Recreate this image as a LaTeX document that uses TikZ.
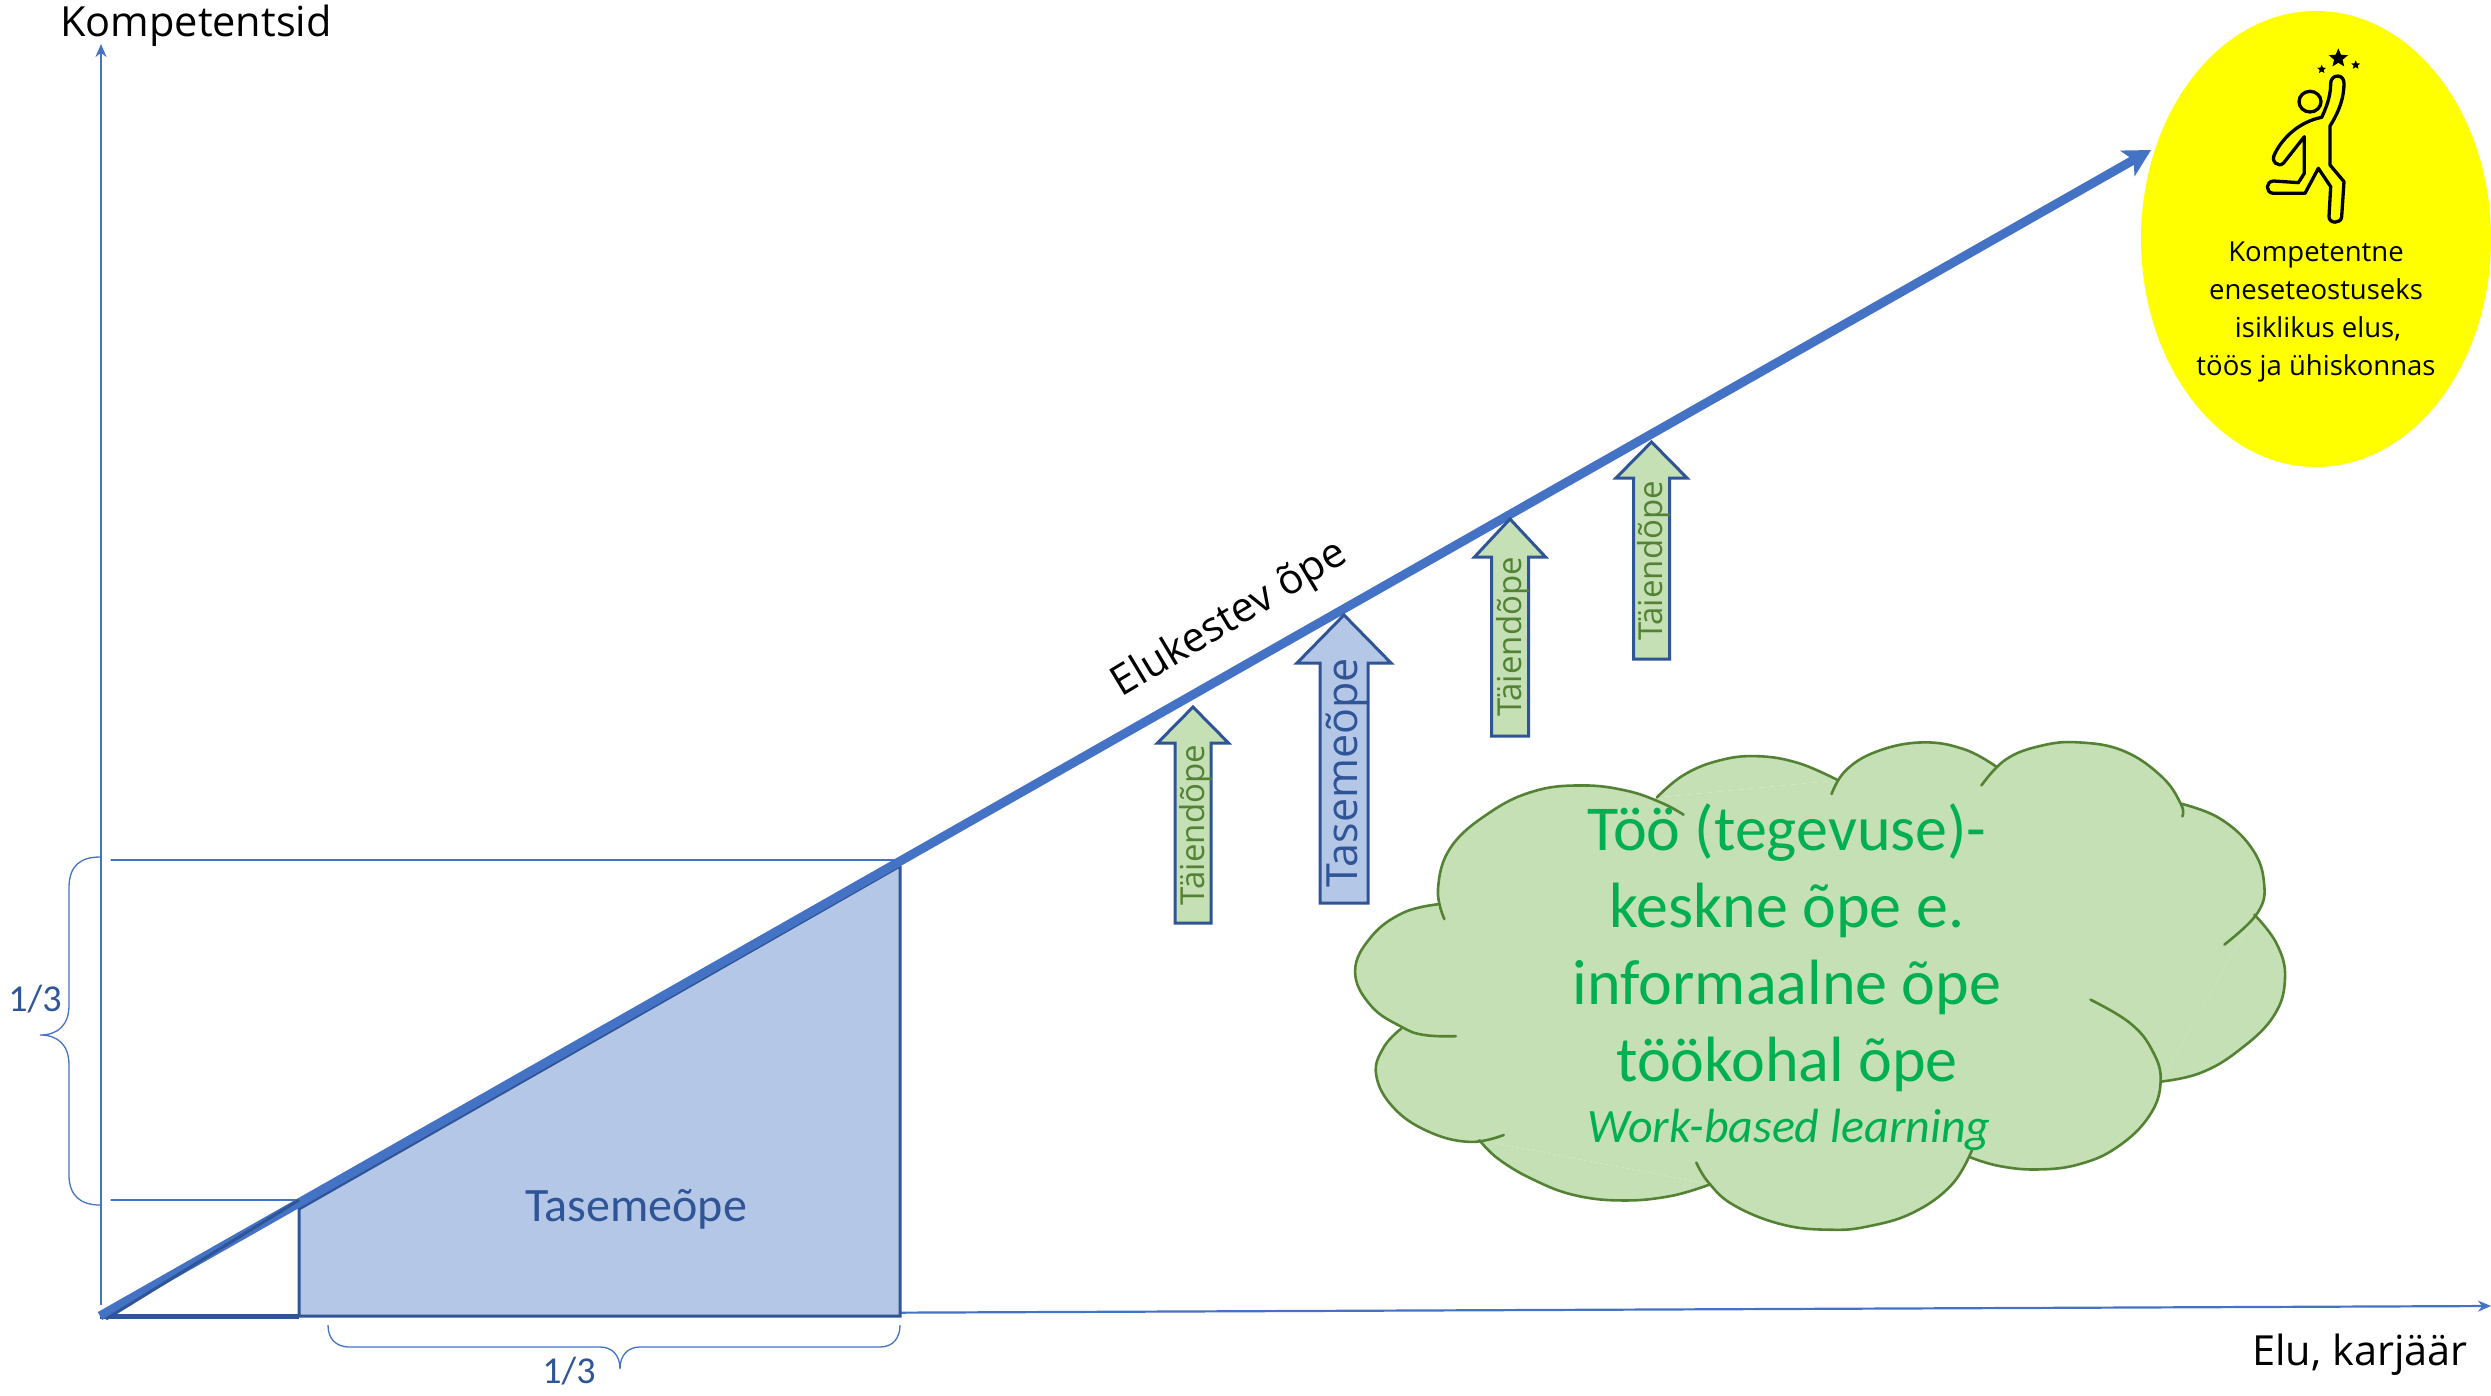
\documentclass[tikz,border=0pt]{standalone}
\usepackage{fontspec}
\setmainfont{Open Sans}
\newfontfamily\carlito{Carlito}
\usetikzlibrary{arrows.meta,shapes.geometric}
\definecolor{axisblue}{HTML}{4472C4}
\definecolor{darkblue}{HTML}{2F5597}
\definecolor{paleblue}{HTML}{B4C7E7}
\definecolor{palegreen}{HTML}{C5E0B4}
\definecolor{darkgreen}{HTML}{548235}
\definecolor{textgreen}{HTML}{00B050}
\definecolor{sun}{HTML}{FFFF00}
\newcommand{\fs}[1]{\fontsize{#1}{#1}\selectfont}
\newcommand{\blockarrow}[8]{% name tipx tipy baseY halfhead halfshaft bottomY style
  \draw[#8] (#2,#3) -- (#2+#5,#4) -- (#2+#6,#4) -- (#2+#6,#7) -- (#2-#6,#7) -- (#2-#6,#4) -- (#2-#5,#4) -- cycle;
  \coordinate (#1) at (#2,#7);
}
\newcommand{\lobe}[1]{\fill[palegreen] plot[smooth,tension=0.7] coordinates {#1} -- cycle;}
\newcommand{\lobeline}[1]{\draw[cloudline] plot[smooth,tension=0.7] coordinates {#1};}
\tikzset{
  axisline/.style={draw=axisblue,line width=2.2pt,-{Stealth[length=13pt,width=11pt]}},
  guide/.style={draw=axisblue,line width=1.2pt,line cap=round},
  lifeline/.style={draw=axisblue,line width=9pt,-{Stealth[length=27pt,width=29pt,inset=7pt]}},
  bluearrow/.style={draw=darkblue,line width=3pt,fill=paleblue,line join=miter},
  greenarrow/.style={draw=darkblue,line width=3pt,fill=palegreen,line join=miter},
  cloudline/.style={draw=darkgreen,line width=2.6pt,line cap=round},
  axislabel/.style={text=black,inner sep=0pt,font=\fs{41.5}},
  fraction/.style={text=darkblue,inner sep=0pt,font=\carlito\fs{38}},
  topup/.style={text=darkgreen,inner sep=0pt,rotate=90,font=\fs{33}},
  stepup/.style={text=darkblue,inner sep=0pt,rotate=90,font=\fs{43}},
  cloudtext/.style={text=textgreen,inner sep=0pt,anchor=base,font=\carlito\fs{64}},
  ellipsetext/.style={text=black,inner sep=0pt,anchor=base,font=\fs{27.5}}
}
\begin{document}
\begin{tikzpicture}[x=1pt,y=-1pt]
\useasboundingbox (0,0) rectangle (2491,1395);
\coordinate (o) at (100,1316);
\coordinate (ytop) at (101,44);
\coordinate (ybottom) at (101,1305);
\coordinate (xend) at (2491,1306);
\coordinate (tl) at (299,1200);
\coordinate (bl) at (299,1316);
\coordinate (tr) at (900,866);
\coordinate (tlb) at (299,1209);
\coordinate (br) at (900,1316);
\coordinate (gl1) at (111,860);
\coordinate (gl2) at (111,1200);
\coordinate (gr1) at (900,860);

% axes
\draw[axisline] (ybottom) -- (ytop);
\draw[axisline] (o) -- (xend);

% trapezoid and small triangle
\fill[paleblue] (tlb) -- (tr) -- (br) -- (bl) -- cycle;
\draw[darkblue,line width=3pt,line join=miter] (tl) -- (bl) (tr) -- (br) -- (bl) (tlb) -- (tr);
\draw[darkblue,line width=5pt] (o) -- (bl);
\draw[guide] (gl1) -- (gr1);
\draw[guide] (gl2) -- (tl);

% ellipse
\node[ellipse,fill=sun,minimum width=350pt,minimum height=456pt,inner sep=0pt] (goal) at (2316,239) {};

% main line
\draw[lifeline] (o) -- (2151,150) coordinate (tip);
\draw[darkblue,line width=3pt] (106,1319) -- (tl);

% braces
\draw[axisblue,line width=1.3pt] (100,857) .. controls (80,857) and (69,866) .. (69,888)
  -- (69,1005) .. controls (69,1025) and (58,1035) .. (40,1035)
  .. controls (58,1035) and (69,1045) .. (69,1065) -- (69,1175)
  .. controls (69,1195) and (80,1205) .. (100,1205);
\draw[axisblue,line width=1.3pt] (328,1325) .. controls (328,1338) and (335,1347) .. (350,1347)
  -- (600,1347) .. controls (612,1347) and (620,1355) .. (620,1369)
  .. controls (620,1355) and (628,1347) .. (640,1347) -- (880,1347)
  .. controls (893,1347) and (900,1338) .. (900,1325);
\node[fraction] (f1) at (35,999) {1/3};
\node[fraction] (f2) at (569,1371) {1/3};
\node[text=darkblue,inner sep=0pt,font=\carlito\fs{48}] (tase) at (636,1209) {Tasemeõpe};

% axis labels
\node[axislabel] (kom) at (196,26) {Kompetentsid};
\node[axislabel] (elu) at (2360,1355) {Elu, karjäär};
\node[axislabel,rotate=31] (life) at (1230,620) {Elukestev õpe};

% block arrows
\blockarrow{a1}{1193}{707}{743}{35.5}{18}{923}{greenarrow}
\blockarrow{a2}{1344}{615}{663}{47}{24}{903}{bluearrow}
\blockarrow{a3}{1510}{519}{557}{35.5}{18.5}{736}{greenarrow}
\blockarrow{a4}{1651.5}{442}{478}{35.5}{18}{659}{greenarrow}
\node[topup] (t1) at (1196,825) {Täiendõpe};
\node[stepup] (t2) at (1347,773) {Tasemeõpe};
\node[topup] (t3) at (1513,637) {Täiendõpe};
\node[topup] (t4) at (1654,561) {Täiendõpe};

% cloud
\begin{scope}[shift={(1320pt,-720pt)},x=0.6378pt,y=-0.3444pt]
\def\lA{(195,578) (185,490) (205,370) (265,270) (335,207) (410,190) (480,205) (535,240) (570,275)}
\def\lB{(528,225) (570,160) (625,118) (685,105) (750,125) (812,175)}
\def\lC{(802,215) (825,145) (875,90) (945,65) (1010,85) (1060,135)}
\def\lD{(1037,190) (1075,115) (1130,75) (1190,65) (1260,90) (1320,165) (1350,245) (1352,280)}
\def\lE{(1350,243) (1410,285) (1460,370) (1480,470) (1470,560) (1418,652)}
\def\lF{(1465,565) (1500,650) (1513,750) (1495,860) (1440,960) (1380,1025) (1318,1050)}
\def\lG{(1208,812) (1270,880) (1305,960) (1318,1050) (1300,1150) (1250,1240) (1190,1290) (1125,1305) (1065,1295) (1020,1270)}
\def\lH{(1022,1250) (990,1350) (930,1430) (860,1470) (800,1480) (725,1465) (650,1410) (610,1345) (590,1285)}
\def\lI{(612,1348) (550,1382) (475,1395) (400,1380) (335,1335) (280,1275) (250,1220)}
\def\lJ{(288,1205) (235,1225) (170,1195) (115,1125) (88,1030) (100,950) (128,895)}
\def\lK{(213,918) (165,915) (130,893) (80,830) (55,730) (80,630) (130,560) (185,535)}
\fill[palegreen] (185,535) -- (528,225) -- (812,175) -- (1060,135) -- (1350,245) -- (1465,565) -- (1318,1050) -- (1020,1270) -- (612,1348) -- (250,1220) -- (128,895) -- cycle;
\lobe{\lA}\lobe{\lB}\lobe{\lC}\lobe{\lD}\lobe{\lE}\lobe{\lF}\lobe{\lG}\lobe{\lH}\lobe{\lI}\lobe{\lJ}\lobe{\lK}
\lobeline{\lA}\lobeline{\lB}\lobeline{\lC}\lobeline{\lD}\lobeline{\lE}\lobeline{\lF}\lobeline{\lG}\lobeline{\lH}\lobeline{\lI}\lobeline{\lJ}\lobeline{\lK}
\end{scope}
\node[cloudtext] (c1) at (1787,850) {Töö (tegevuse)-};
\node[cloudtext] (c2) at (1787,927) {keskne õpe e.};
\node[cloudtext] (c3) at (1787,1004) {informaalne õpe};
\node[cloudtext] (c4) at (1787,1081) {töökohal õpe};
\node[text=textgreen,inner sep=0pt,anchor=base,font=\carlito\itshape\fs{48}] (c5) at (1789,1142) {Work-based learning};

% ellipse text
\node[ellipsetext] (e1) at (2316,261) {Kompetentne};
\node[ellipsetext] (e2) at (2316,299) {eneseteostuseks};
\node[ellipsetext] (e3) at (2318,337) {isiklikus elus,};
\node[ellipsetext] (e4) at (2316,375) {töös ja ühiskonnas};

% figure icon
\begin{scope}[shift={(2120pt,0pt)},x=0.3333pt,y=-0.3333pt]
\draw[black,line width=3.3pt,line join=round,fill=sun]
  (653,228) .. controls (665,228) and (672,238) .. (672,250)
  .. controls (672,290) and (660,330) .. (630,378) -- (630,495) -- (672,545) -- (665,650)
  .. controls (664,672) and (627,672) .. (627,650) -- (632,560) -- (595,505) -- (555,580) -- (460,580)
  .. controls (436,578) and (436,545) .. (460,543) -- (535,548) -- (553,520) -- (553,410) -- (490,490)
  .. controls (475,503) and (450,485) .. (465,460)
  .. controls (490,410) and (540,365) .. (605,352)
  .. controls (625,310) and (632,280) .. (632,250)
  .. controls (632,238) and (641,228) .. (653,228) -- cycle;
\draw[black,line width=3.3pt] (570,305) ellipse [x radius=33,y radius=31];
\foreach \cx/\cy/\r in {655/175/30, 605/208/14, 707/195/14}{
  \fill[black] ({\cx+\r*cos(90)},{\cy-\r*sin(90)})
  \foreach \k in {1,...,9}{ -- ({\cx+(mod(\k,2)==1?0.45:1)*\r*cos(90+36*\k)},{\cy-(mod(\k,2)==1?0.45:1)*\r*sin(90+36*\k)}) } -- cycle;
}
\end{scope}
\end{tikzpicture}
\end{document}
